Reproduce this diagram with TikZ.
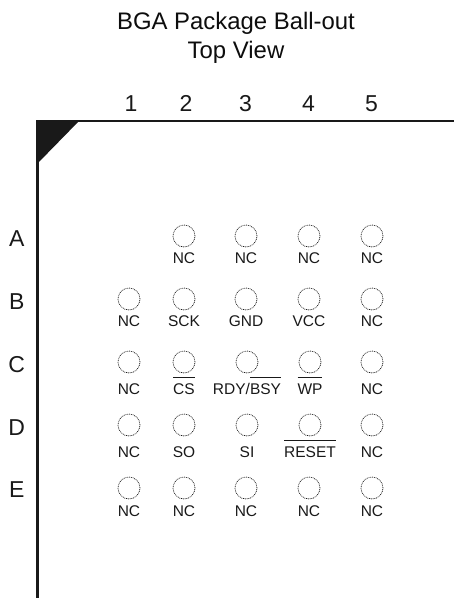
\documentclass[tikz,border=0pt]{standalone}
\usepackage{fontspec}
\setmainfont{Liberation Sans}
\newcommand{\ovl}[1]{\leavevmode\setbox0=\hbox{#1}\rlap{\rule[1.03em]{\wd0}{0.9pt}}\box0}
\tikzset{
  x=1pt,y=-1pt,
  ball/.style={circle,draw=black!90,dash pattern=on 0.9pt off 0.9pt,line width=0.7pt,minimum size=22pt,inner sep=0pt},
  pin/.style={font=\fontsize{15.5}{17}\selectfont,inner sep=0pt,text=black!90,anchor=base},
  axis/.style={font=\fontsize{23}{26}\selectfont,inner sep=0pt,text=black!90,anchor=base},
  titletext/.style={font=\fontsize{23.9}{29}\selectfont,align=center,inner sep=0pt,text=black!95},
  edge/.style={line width=2.2pt,black!90,line cap=butt},
}
\begin{document}
\begin{tikzpicture}
\useasboundingbox (0,0) rectangle (454,598);
\fill[white] (0,0) rectangle (454,598);
\node[titletext] (title) at (236,38) {BGA Package Ball-out\\Top View};
\foreach \n/\x in {1/131,2/186,3/245.5,4/308.5,5/371.5}
  \node[axis] (col\n) at (\x,111) {\n};
\foreach \n/\y in {A/246.5,B/309.5,C/372.5,D/435.5,E/497.5}
  \node[axis] (row\n) at (16.7,\y) {\n};
\coordinate (corner) at (37.5,121);
\coordinate (right) at (454,121);
\coordinate (bottom) at (37.5,598);
\draw[edge] (right) -- (corner) -- (bottom);
\fill[black!90] (36.5,120) -- (80,120) -- (37,164) -- cycle;
% row A
\foreach \c/\x in {2/184,3/246,4/309,5/372} {
  \node[ball] (A\c) at (\x,236) {};
  \node[pin] (lA\c) at (\x,263) {NC};
}
% row B
\foreach \c/\x/\t in {1/129/NC,2/184/SCK,3/246/GND,4/309/VCC,5/372/NC} {
  \node[ball] (B\c) at (\x,299) {};
  \node[pin] (lB\c) at (\x,326) {\t};
}
% row C
\foreach \c/\x in {1/129,2/184,3/247,4/310,5/372} {
  \node[ball] (C\c) at (\x,362) {};
}
\node[pin] (lC1) at (129,394) {NC};
\node[pin] (lC2) at (184,394) {\ovl{CS}};
\node[pin] (lC3) at (247,394) {RDY/\ovl{BSY}};
\node[pin] (lC4) at (310,394) {\ovl{WP}};
\node[pin] (lC5) at (372,394) {NC};
% row D
\foreach \c/\x in {1/129,2/184,3/247,4/310,5/372} {
  \node[ball] (D\c) at (\x,425) {};
}
\node[pin] (lD1) at (129,457) {NC};
\node[pin] (lD2) at (184,457) {SO};
\node[pin] (lD3) at (247,457) {SI};
\node[pin] (lD4) at (310,457) {\ovl{RESET}};
\node[pin] (lD5) at (372,457) {NC};
% row E
\foreach \c/\x in {1/129,2/184,3/246,4/309,5/372} {
  \node[ball] (E\c) at (\x,488) {};
  \node[pin] (lE\c) at (\x,516) {NC};
}
\end{tikzpicture}
\end{document}
